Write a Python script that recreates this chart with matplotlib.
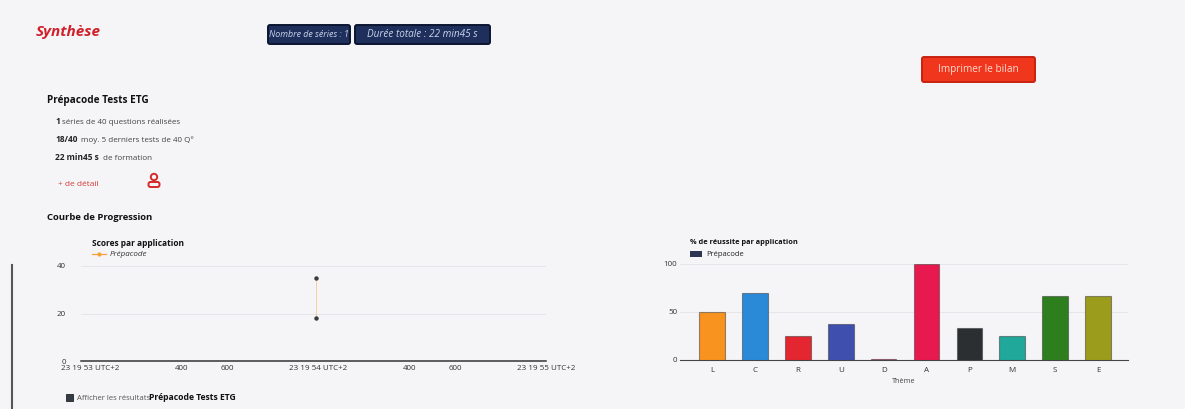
import matplotlib
matplotlib.use("Agg")
import matplotlib.pyplot as plt
from matplotlib.patches import FancyBboxPatch, Rectangle, Circle
import numpy as np

W, H = 1185, 409

# --- data ---
summary_series = "1"
summary_avg = "18/40"
summary_time = "22 min45 s"

score_seconds = [53.99, 53.99]   # 23:19:53.99
score_values = [35, 18]
score_ticks = [53.0, 53.4, 53.6, 54.0, 54.4, 54.6, 55.0]
score_labels = ["23 19 53 UTC+2", "400", "600", "23 19 54 UTC+2", "400", "600", "23 19 55 UTC+2"]

themes = ["L", "C", "R", "U", "D", "A", "P", "M", "S", "E"]
reussite = [50, 70, 25, 38, 0.6, 100, 33, 25, 67, 67]
theme_colors = ["#f7931e", "#2b8ad8", "#e3262f", "#3f4fae", "#d81b60",
                "#e8194f", "#2b2f31", "#20a89a", "#2d7f1e", "#9c9c1c"]

plt.rcParams['font.family'] = ['Open Sans', 'DejaVu Sans']

fig = plt.figure(figsize=(W / 100, H / 100), dpi=100)
fig.patch.set_facecolor("#f5f5f7")
bg = fig.add_axes([0, 0, 1, 1])
bg.set_xlim(0, W)
bg.set_ylim(H, 0)
bg.axis("off")


def txt(x, y, s, size=6, color="#222222", weight="normal", style="normal", ha="left"):
    bg.text(x, y, s, fontsize=size, color=color, weight=weight, style=style,
            ha=ha, va="center")


def button(x0, x1, y0, y1, label, face, edge, tcolor, size=6.8):
    bg.add_patch(FancyBboxPatch((x0, y0), x1 - x0, y1 - y0,
                                boxstyle="round,pad=0,rounding_size=2",
                                fc=face, ec=edge, lw=1.4))
    txt((x0 + x1) / 2, (y0 + y1) / 2, label, size=size, color=tcolor, style="italic", ha="center")


# header
txt(36, 32, "Synthèse", size=11, color="#d0202a", weight="bold", style="italic")
button(268, 350, 25, 44, f"Nombre de séries : {summary_series}", "#1d2f5a", "#0c1530", "#c9d4ee", 6.4)
button(355, 490, 25, 44, f"Durée totale : {summary_time}", "#1d2f5a", "#0c1530", "#c9d4ee", 7.2)
bg.add_patch(FancyBboxPatch((922, 57), 113, 25, boxstyle="round,pad=0,rounding_size=2",
                            fc="#f0371d", ec="#c8220f", lw=1.4))
txt(978, 69.5, "Imprimer le bilan", size=7.2, color="#ffd9cf", ha="center")

# summary block
txt(47, 101, "Prépacode Tests ETG", size=7.2, weight="bold", color="#111111")
txt(55, 122, summary_series, size=6, weight="bold")
txt(62, 122, "séries de 40 questions réalisées", size=5.8, color="#444444")
txt(55, 140, summary_avg, size=6, weight="bold")
txt(81, 140, "moy. 5 derniers tests de 40 Q°", size=5.8, color="#444444")
txt(55, 158, summary_time, size=6, weight="bold")
txt(103, 158, "de formation", size=5.8, color="#444444")
txt(58, 184, "+ de détail", size=6, color="#d33a3a")
bg.add_patch(Circle((154, 177), 3.2, fc="none", ec="#d42a2a", lw=1.4))
bg.add_patch(FancyBboxPatch((148.5, 182), 11, 5, boxstyle="round,pad=0,rounding_size=2",
                            fc="none", ec="#d42a2a", lw=1.4))

txt(47, 218, "Courbe de Progression", size=6.8, weight="bold", color="#111111")
bg.plot([12, 12], [265, H], color="#555555", lw=1.5)

# checkbox
bg.add_patch(Rectangle((66, 394), 7, 7, fc="#333b44", ec="#222222", lw=0.6))
txt(77, 398, "Afficher les résultats", size=5.6, color="#555555")
txt(149, 398, "Prépacode Tests ETG", size=6.2, weight="bold", color="#111111")


def px_axes(x0, x1, y_top, y_bot):
    return fig.add_axes([x0 / W, 1 - y_bot / H, (x1 - x0) / W, (y_bot - y_top) / H])


# line chart
ax1 = px_axes(81, 546, 266, 361)
ax1.set_facecolor("none")
ax1.plot(score_seconds, score_values, color="#f2a33a", lw=0.6, alpha=0.5, clip_on=False)
ax1.plot(score_seconds, score_values, ls="none", marker="o", markersize=2.2,
         markerfacecolor="#3c3c3c", markeredgecolor="#3c3c3c", label="Prépacode", clip_on=False)
ax1.set_xlim(52.96, 55.0)
ax1.set_ylim(0, 40)
ax1.set_yticks([0, 20, 40])
ax1.set_xticks(score_ticks)
ax1.set_xticklabels(score_labels)
ax1.grid(axis="y", color="#e2e2e8", lw=0.6)
for s in ["top", "right", "left"]:
    ax1.spines[s].set_visible(False)
ax1.spines["bottom"].set_color("#333333")
ax1.spines["bottom"].set_linewidth(1.1)
ax1.tick_params(axis="both", length=0, labelsize=5.8, colors="#333333")
ax1.tick_params(axis="x", pad=3)
ax1.tick_params(axis="y", pad=11)
txt(92, 243, "Scores par application", size=6, weight="bold", color="#111111")
bg.plot([92, 106], [254, 254], color="#f2a33a", lw=0.9)
bg.plot([99], [254], marker="o", markersize=2, color="#f2a33a")
txt(110, 254, "Prépacode", size=5.8, style="italic", color="#333333")

# bar chart
ax2 = px_axes(680, 1128, 264, 360)
ax2.set_facecolor("none")
x = np.arange(len(themes))
ax2.bar(x, reussite, width=0.6, color=theme_colors, edgecolor="#33333380", lw=0.8, zorder=3)
ax2.set_xlim(-0.75, len(themes) - 0.3)
ax2.set_ylim(0, 100)
ax2.set_yticks([0, 50, 100])
ax2.set_xticks(x)
ax2.set_xticklabels(themes)
ax2.grid(axis="y", color="#e2e2e8", lw=0.6)
for s in ["top", "right", "left"]:
    ax2.spines[s].set_visible(False)
ax2.spines["bottom"].set_color("#444444")
ax2.tick_params(axis="both", length=0, labelsize=5.8, colors="#333333")
ax2.tick_params(axis="x", pad=5)
ax2.tick_params(axis="y", pad=2)
ax2.set_xlabel("Thème", fontsize=5.2, color="#444444", labelpad=3)
txt(690, 243, "% de réussite par application", size=5.3, weight="bold", color="#111111")
bg.add_patch(Rectangle((690, 251), 12, 6, fc="#2e3550", ec="none"))
txt(706, 254, "Prépacode", size=5.5, color="#222222")

fig.savefig("out.png", dpi=100, facecolor=fig.get_facecolor())
